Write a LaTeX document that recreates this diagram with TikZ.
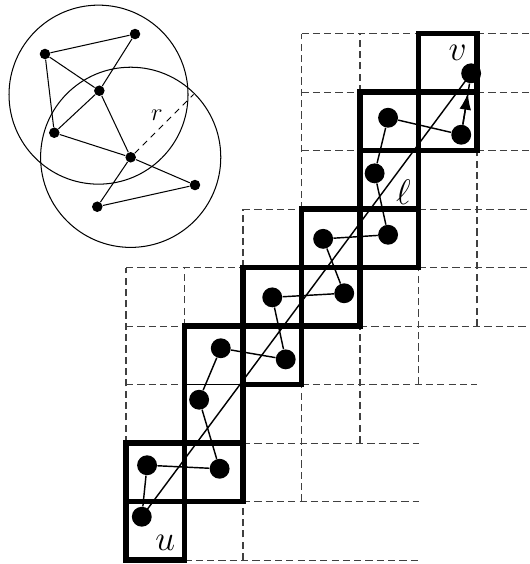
\documentclass[tikz,border=0pt]{standalone}
\usetikzlibrary{arrows.meta}

\begin{document}
\begin{tikzpicture}[
  dot/.style={fill=black, circle, inner sep=0pt, minimum size=3.4mm},
  small dot/.style={fill=black, circle, inner sep=0pt, minimum size=1.8mm},
  grid line/.style={black!75, line width=0.5pt, dash pattern=on 3.5pt off 2pt},
  heavy/.style={line width=2.8pt},
  edge/.style={line width=0.7pt},
  thin edge/.style={line width=0.5pt},
  big label/.style={font=\fontsize{17.28}{20}\selectfont},
]
\useasboundingbox (-2.154,-0.068) rectangle (6.889,9.573);
\clip (-2.154,-0.068) rectangle (6.889,9.573);

\foreach \y/\a/\b in {9/3/5, 9/6/7, 8/3/4, 8/6/7, 7/3/4, 7/6/7, 6/2/3, 6/5/7, 5/0/2,
    5/5/7, 4/0/1, 4/4/7, 3/0/1, 3/3/6, 2/2/5, 1/2/5, 0/1/5}
  \draw[grid line] (\a,\y) -- (\b,\y);
\foreach \x/\a/\b in {3/6/9, 4/8/9, 2/5/6, 0/2/5, 1/4/5, 6/4/7, 5/3/5, 4/2/4, 3/1/3, 2/0/1}
  \draw[grid line] (\x,\a) -- (\x,\b);

% the strip of cells from u to v
\foreach \i/\j in {0/0, 0/1, 1/1, 2/3, 2/4, 3/4, 3/5, 4/5, 4/6, 4/7, 5/7, 5/8}
  \draw[heavy] (\i,\j) rectangle ++(1,1);
\draw[heavy] (1,2) rectangle (2,4);
\draw[edge] (1,3) -- (2,3);

\foreach \n/\x/\y in {0/0.27/0.74, 1/0.36/1.62, 2/1.6/1.56, 3/1.25/2.74, 4/1.62/3.62,
    5/2.73/3.43, 6/2.5/4.49, 7/3.73/4.56, 8/3.37/5.49, 9/4.48/5.56, 10/4.25/6.61,
    11/4.48/7.56, 12/5.73/7.27, 13/5.9/8.32}
  \node[dot] (p\n) at (\x,\y) {};
\foreach \a/\b in {0/1, 1/2, 2/3, 3/4, 4/5, 5/6, 6/7, 7/8, 8/9, 9/10, 10/11, 11/12}
  \draw[edge] (p\a) -- (p\b);
\draw[edge] (p12) -- (p13);
\draw[edge, -{Latex[length=2.8mm, width=2mm]}, shorten >=1.7mm] (p12) -- (p13);
\draw[edge] (p0.center) -- (p13.center);

\node[big label] (ulab) at (0.67,0.29) {$u$};
\node[big label] (vlab) at (5.67,8.67) {$v$};
\node[big label] (llab) at (4.74,6.29) {$\ell$};

% inset: the unit disk graph
\foreach \n/\x/\y in {a/0.154/8.991, b/-1.385/8.65, c/-0.456/8.022, d/-1.226/7.304,
    e/0.08/6.884, f/1.179/6.41, g/-0.491/6.039}
  \node[small dot] (\n) at (\x,\y) {};
\foreach \a/\b in {b/a, a/c, b/c, b/d, c/d, c/e, d/e, e/f, e/g, g/f}
  \draw[thin edge] (\a) -- (\b);
\draw[thin edge] (-0.47,7.955) circle[radius=1.53];
\draw[thin edge] (e) circle[radius=1.54];
\coordinate (rim) at ([shift={(45:1.52)}]e.center);
\draw[thin edge, dash pattern=on 3pt off 2.5pt] (e) -- (rim);
\node[font=\fontsize{12}{14}\selectfont] (rlab) at (0.53,7.61) {$r$};
\end{tikzpicture}
\end{document}
